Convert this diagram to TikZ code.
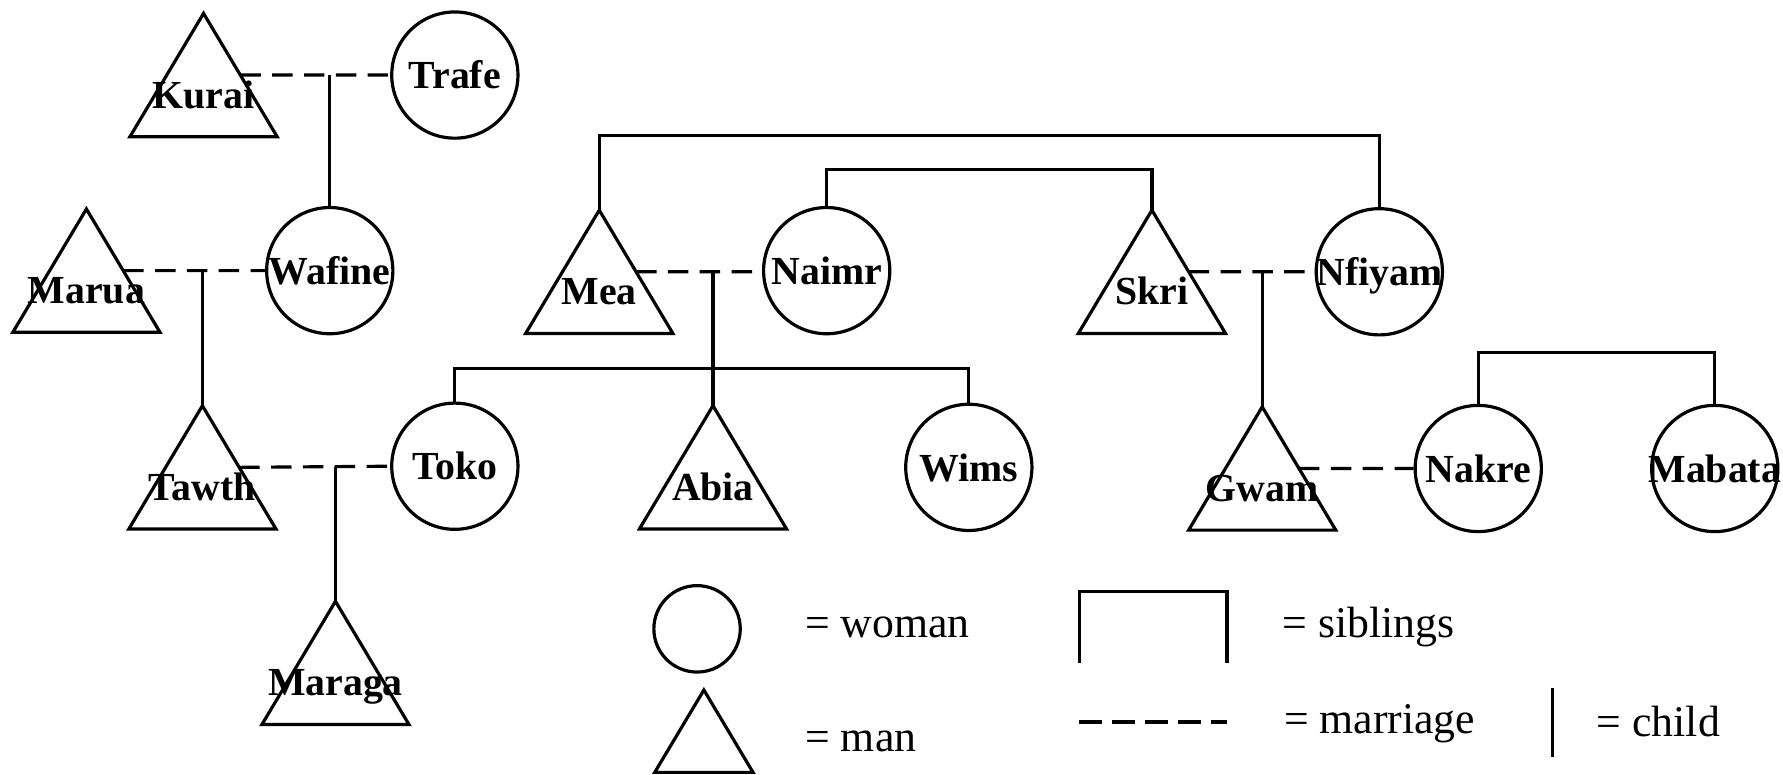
\documentclass[tikz,border=0pt]{standalone}
\usepackage{fontspec}
\setmainfont{Liberation Serif}
\usetikzlibrary{calc}
\newcommand{\pn}[1]{\makebox[0pt]{#1}}
\tikzset{
  ln/.style={line width=2.8pt},
  namefont/.style={font=\fontsize{35pt}{40pt}\selectfont\bfseries},
  woman/.style={circle, draw, ln, minimum size=111pt, inner sep=0pt,
    text height=24pt, text depth=0pt, namefont},
  trishape/.style={append after command={\pgfextra{\draw[ln]
    (\tikzlastnode.south west) -- (\tikzlastnode.north) -- (\tikzlastnode.south east) -- cycle;}}},
  man/.style={rectangle, inner sep=0pt, minimum width=129pt, minimum height=108pt,
    text height=78pt, text depth=20pt, namefont, trishape},
  legwoman/.style={circle, draw, ln, minimum size=76pt, inner sep=0pt},
  legman/.style={rectangle, inner sep=0pt, minimum width=86pt, minimum height=72pt, trishape},
  marriage/.style={ln, dash pattern=on 18pt off 10pt},
  legdash/.style={ln, dash pattern=on 20pt off 9pt},
  childln/.style={ln},
  sibln/.style={ln},
  legtext/.style={anchor=base west, inner sep=0pt, font=\fontsize{38.5pt}{44pt}\selectfont},
}
\begin{document}
\begin{tikzpicture}[x=1pt,y=-1pt]
\useasboundingbox (0,0) rectangle (1568,681);

% men
\node[man] (Kurai)  at (179,66)  {Kurai};
\node[man] (Marua)  at (76,238)  {Marua};
\node[man] (Tawth)  at (178,411) {Tawth};
\node[man] (Maraga) at (295,583) {Maraga};
\node[man] (Mea)    at (527,239) {Mea};
\node[man] (Abia)   at (627,411) {Abia};
\node[man] (Skri)   at (1013,239) {Skri};
\node[man] (Gwam)   at (1110,412) {Gwam};

% women
\node[woman] (Trafe)  at (400,66)   {\pn{Trafe}};
\node[woman] (Wafine) at (290,238)  {\pn{Wafine}};
\node[woman] (Naimr)  at (727,238)  {\pn{Naimr}};
\node[woman] (Nfiyam) at (1213,239) {\pn{Nfiyam}};
\node[woman] (Toko)   at (400,410)  {\pn{Toko}};
\node[woman] (Wims)   at (852,411)  {\pn{Wims}};
\node[woman] (Nakre)  at (1300,412) {\pn{Nakre}};
\node[woman] (Mabata) at (1508,412) {\pn{Mabata}};

% marriages
\draw[marriage] ($(Kurai.north)!.5!(Kurai.south east)$) -- (Trafe.west);
\draw[marriage] ($(Marua.north)!.5!(Marua.south east)$) -- (Wafine.west);
\draw[marriage] ($(Tawth.north)!.5!(Tawth.south east)$) -- (Toko.west);
\draw[marriage] ($(Mea.north)!.5!(Mea.south east)$) -- (Naimr.west |- Mea.center);
\draw[marriage] ($(Skri.north)!.5!(Skri.south east)$) -- (Nfiyam.west |- Skri.center);
\draw[marriage] ($(Gwam.north)!.5!(Gwam.south east)$) -- (Nakre.west |- Gwam.center);

% children
\draw[childln] (Wafine.north |- Kurai.center) -- (Wafine.north);
\draw[childln] (Tawth.north |- Marua.center) -- (Tawth.north);
\draw[childln] (Maraga.north |- Tawth.center) -- (Maraga.north);
\draw[childln] (Abia.north |- Mea.center) -- (Abia.north);
\draw[childln] (Gwam.north |- Skri.center) -- (Gwam.north);

% siblings
\draw[sibln] (Mea.north) -- ++(0,-66) -| (Nfiyam.north);
\draw[sibln] (Naimr.north) -- ++(0,-32) -| (Skri.north);
\draw[sibln] (Toko.north) -- ++(0,-29) -| (Wims.north);
\draw[sibln] (Nakre.north) -- ++(0,-45) -| (Mabata.north);

% legend
\node[legwoman] (legW) at (613,553) {};
\node[legman] (legM) at (619,643) {};
\node[legtext] (legWt) at (708,561) {= woman};
\node[legtext] (legMt) at (708,661) {= man};
\coordinate (sibA) at (949,583);
\coordinate (sibB) at (1079,583);
\draw[sibln] (sibA) -- ++(0,-62.5) -| (sibB);
\node[legtext] (legSt) at (1128,561) {= siblings};
\coordinate (marA) at (949,635);
\coordinate (marB) at (1079,635);
\draw[legdash] (marA) -- (marB);
\node[legtext] (legRt) at (1129,645) {= marriage};
\coordinate (chA) at (1365,605);
\coordinate (chB) at (1365,666);
\draw[childln] (chA) -- (chB);
\node[legtext] (legCt) at (1404,648) {= child};
\end{tikzpicture}
\end{document}
